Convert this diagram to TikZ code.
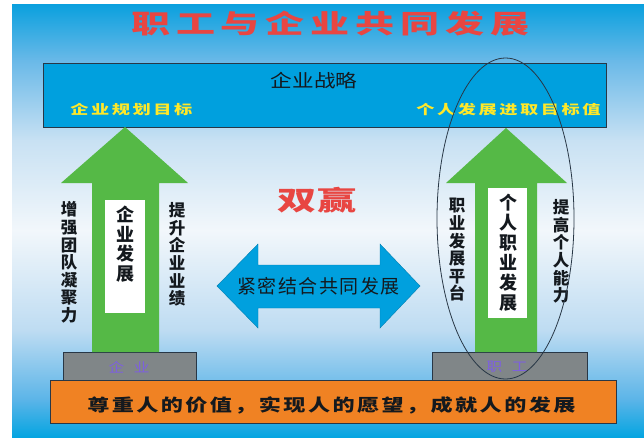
\documentclass[tikz,border=0pt]{standalone}
\usepackage{fontspec}
\setmainfont{Noto Sans CJK SC}
\usetikzlibrary{shapes.geometric}
\definecolor{bgA}{RGB}{10,160,222}
\definecolor{bgB}{RGB}{105,185,232}
\definecolor{bgC}{RGB}{200,225,243}
\definecolor{bgD}{RGB}{242,247,251}
\definecolor{bgE}{RGB}{190,220,242}
\definecolor{bgF}{RGB}{90,180,232}
\definecolor{bgG}{RGB}{5,165,225}
\definecolor{boxblue}{RGB}{0,160,222}
\definecolor{arrowgreen}{RGB}{85,185,70}
\definecolor{boxgray}{RGB}{128,134,136}
\definecolor{boxorange}{RGB}{240,130,35}
\definecolor{titlered}{RGB}{232,70,66}
\definecolor{glowpink}{RGB}{250,185,185}
\definecolor{gold}{RGB}{255,232,40}
\definecolor{inkdark}{RGB}{20,25,30}
\definecolor{labelpurple}{RGB}{125,95,225}
\definecolor{edgedark}{RGB}{40,55,70}
\tikzset{
  panel/.style={draw=edgedark,line width=0.8pt},
  vtext/.style={inner sep=0pt,align=center,text=inkdark,font=\bfseries\fontsize{16.5}{17.6}\selectfont},
  ytext/.style={anchor=west,inner sep=0pt,xscale=1.4,text=gold,font=\bfseries\fontsize{13}{13}\selectfont\addfontfeature{LetterSpace=14}},
}
\begin{document}
\begin{tikzpicture}[x=1pt,y=1pt]
\useasboundingbox (0,0) rectangle (644,-437);
\fill[white] (0,0) rectangle (644,-437);
% background bands
\shade[top color=bgA,bottom color=bgB] (12,-4) rectangle (644,-60.5);
\shade[top color=bgB,bottom color=bgC] (12,-60) rectangle (644,-140.5);
\shade[top color=bgC,bottom color=bgD] (12,-140) rectangle (644,-230.5);
\shade[top color=bgD,bottom color=bgE] (12,-230) rectangle (644,-330.5);
\shade[top color=bgE,bottom color=bgF] (12,-330) rectangle (644,-400.5);
\shade[top color=bgF,bottom color=bgG] (12,-400) rectangle (644,-437);

% title
\node (title) [anchor=west,inner sep=0pt,xscale=1.5,text=titlered,draw=none,font=\bfseries\fontsize{26}{26}\selectfont\addfontfeature{LetterSpace=15}] at (131,-23.5) {职工与企业共同发展};

% top strategy box
\node (strategy) [panel,fill=boxblue,minimum width=563pt,minimum height=64pt,inner sep=0pt,anchor=north west] at (43,-63) {};
\node (strategytext) [inner sep=0pt,xscale=1.2,text=inkdark,font=\fontsize{18}{18}\selectfont] at (314,-81) {企业战略};
\node (goalL) [ytext] at (70,-110) {企业规划目标};
\node (goalR) [ytext] at (416,-110) {个人发展进取目标值};

% bottom boxes
\node (base) [panel,fill=boxorange,minimum width=566pt,minimum height=43pt,inner sep=0pt,anchor=north west] at (50,-380) {};
\node (baseL) [panel,fill=boxgray,minimum width=133pt,minimum height=28pt,inner sep=0pt,anchor=north west] at (63,-352) {};
\node (baseR) [panel,fill=boxgray,minimum width=155pt,minimum height=28pt,inner sep=0pt,anchor=north west] at (432,-352) {};
\node (baseLtext) [inner sep=0pt,xscale=1.2,text=labelpurple,font=\fontsize{13}{13}\selectfont] at (129,-367) {企\hspace{8pt}业};
\node (baseRtext) [inner sep=0pt,xscale=1.2,text=labelpurple,font=\fontsize{13}{13}\selectfont] at (507,-367) {职\hspace{8pt}工};
\node (basetext) [anchor=west,inner sep=0pt,xscale=1.3,text=inkdark,font=\bfseries\fontsize{17}{17}\selectfont\addfontfeature{LetterSpace=11}] at (87,-405) {尊重人的价值，实现人的愿望，成就人的发展};

% left up arrow
\fill[arrowgreen] (125,-127) -- (188,-183) -- (159,-183) -- (159,-352) -- (92,-352) -- (92,-183) -- (61,-183) -- cycle;
\node (innerL) [fill=white,minimum width=40pt,minimum height=113pt,inner sep=0pt,anchor=north west] at (105,-200) {};
\node (innerLtext) [vtext,font=\bfseries\fontsize{18}{19.5}\selectfont] at (125,-244) {企\\业\\发\\展};
\node (sideL1) [vtext] at (69,-262.5) {增\\强\\团\\队\\凝\\聚\\力};
\node (sideL2) [vtext] at (177,-254.5) {提\\升\\企\\业\\业\\绩};

% right up arrow
\fill[arrowgreen] (506,-128) -- (567,-183) -- (537,-183) -- (537,-352) -- (475,-352) -- (475,-183) -- (446,-183) -- cycle;
\node (innerR) [fill=white,minimum width=39pt,minimum height=130pt,inner sep=0pt,anchor=north west] at (488,-188) {};
\node (innerRtext) [vtext,font=\bfseries\fontsize{18}{20}\selectfont] at (508,-253) {个\\人\\职\\业\\发\\展};
\node (sideR1) [vtext] at (457,-250) {职\\业\\发\\展\\平\\台};
\node (sideR2) [vtext] at (561,-251.5) {提\\高\\个\\人\\能\\力};

% win-win
\node (win) [inner sep=0pt,xscale=1.45,text=titlered,font=\bfseries\fontsize{27}{27}\selectfont] at (317,-200) {双赢};

% double arrow
\draw[fill=boxblue,draw=boxblue!80!black,line width=0.4pt] (217,-286) -- (258,-244) -- (258,-265) -- (380,-265) -- (380,-244) -- (420,-286) -- (380,-328) -- (380,-308) -- (258,-308) -- (258,-328) -- cycle;
\node (together) [anchor=west,inner sep=0pt,text=inkdark,font=\fontsize{19}{19}\selectfont\addfontfeature{LetterSpace=8}] at (237,-286) {紧密结合共同发展};

% ellipse
\node (ring) [draw=edgedark,line width=0.8pt,ellipse,minimum width=137pt,minimum height=321pt,inner sep=0pt] at (505.5,-218.5) {};
\end{tikzpicture}
\end{document}
